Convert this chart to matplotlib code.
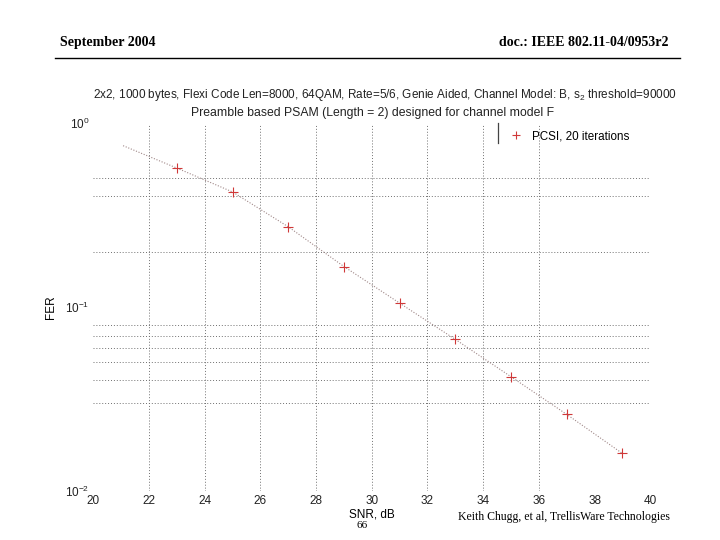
import matplotlib
matplotlib.use("Agg")
import matplotlib.pyplot as plt
from matplotlib.lines import Line2D

# Datos
snr = [23, 25, 27, 29, 31, 33, 35, 37, 39]
fer = [0.569, 0.422, 0.273, 0.166, 0.105, 0.0667, 0.0418, 0.0261, 0.016]
# Linea punteada (empieza un poco antes del primer punto)
snr_linea = [21.07, 23, 25, 27, 29, 31, 33, 35, 37, 39]
fer_linea = [0.753, 0.569, 0.422, 0.273, 0.166, 0.105, 0.0667, 0.0418, 0.0261, 0.016]

xticks = [20, 22, 24, 26, 28, 30, 32, 34, 36, 38, 40]
yticks = [1e-2, 1e-1, 1e0]
ytick_labels = [r"10$^{-2}$", r"10$^{-1}$", r"10$^{0}$"]
grid_x = [22, 24, 26, 28, 30, 32, 34, 36]
grid_y = [0.5, 0.4, 0.2, 0.08, 0.07, 0.06, 0.05, 0.04, 0.03]

titulo1 = "2x2, 1000 bytes, Flexi Code Len=8000, 64QAM, Rate=5/6, Genie Aided, Channel Model: B, s$_2$ threshold=90000"
titulo2 = "Preamble based PSAM (Length = 2) designed for channel model F"

plt.rcParams["font.family"] = ["Liberation Sans", "DejaVu Sans"]
plt.rcParams["mathtext.fontset"] = "custom"
plt.rcParams["mathtext.rm"] = "Liberation Sans"
plt.rcParams["mathtext.it"] = "Liberation Sans"

fig = plt.figure(figsize=(7.2, 5.4), dpi=100)
ax = fig.add_axes([0.1296, 0.0907, 0.7735, 0.6815])

# Rejilla punteada
ax.vlines(grid_x, 0.01, 0.97, colors="#707070", linestyles=(0, (1, 2)), linewidth=0.7)
ax.hlines(grid_y, 20, 40, colors="#707070", linestyles=(0, (1, 2)), linewidth=0.7)

ax.plot(snr_linea, fer_linea, linestyle=(0, (1, 1.5)), color="#a08888", linewidth=0.8)
ax.plot(snr, fer, linestyle="none", marker="+", color="#d03838", markersize=7, markeredgewidth=0.8)

ax.set_yscale("log")
ax.set_xlim(20, 40)
ax.set_ylim(0.01, 1.0)
ax.set_xticks(xticks)
ax.set_yticks(yticks)
ax.set_yticklabels(ytick_labels)
ax.minorticks_off()
ax.tick_params(length=0, labelsize=8.5, colors="#222222", pad=3)
for s in ax.spines.values():
    s.set_visible(False)

ax.set_xlabel("SNR, dB", fontsize=8.5, labelpad=1)
ax.set_ylabel("FER", fontsize=8.5, labelpad=6)

fig.text(0.534, 0.824, titulo1, ha="center", va="center", fontsize=8.5, color="#222222")
fig.text(0.517, 0.791, titulo2, ha="center", va="center", fontsize=8.8, color="#222222")

# Leyenda
ax.legend([Line2D([], [], linestyle="none", marker="+", color="#d03838", markersize=6, markeredgewidth=0.8)],
          ["PCSI, 20 iterations"], loc="upper left", bbox_to_anchor=(0.702, 0.767),
          bbox_transform=fig.transFigure, frameon=False, fontsize=8.4, handlelength=1.0,
          handletextpad=0.9, borderaxespad=0)
fig.add_artist(Line2D([0.691, 0.691], [0.735, 0.772], transform=fig.transFigure, color="#444444", linewidth=0.9))

# Encabezado y pie de pagina
fig.text(0.083, 0.922, "September 2004", fontsize=10, fontweight="bold", family="Liberation Serif", va="center")
fig.text(0.928, 0.922, "doc.: IEEE 802.11-04/0953r2", fontsize=10, fontweight="bold",
         family="Liberation Serif", va="center", ha="right")
fig.add_artist(Line2D([0.076, 0.944], [0.893, 0.893], transform=fig.transFigure, color="black", linewidth=1.0))
fig.text(0.503, 0.026, "66", fontsize=8, family="Liberation Serif", ha="center", va="center")
fig.text(0.636, 0.042, "Keith Chugg, et al, TrellisWare Technologies", fontsize=8.5,
         family="Liberation Serif", va="center")

fig.savefig("out.png", dpi=100)
